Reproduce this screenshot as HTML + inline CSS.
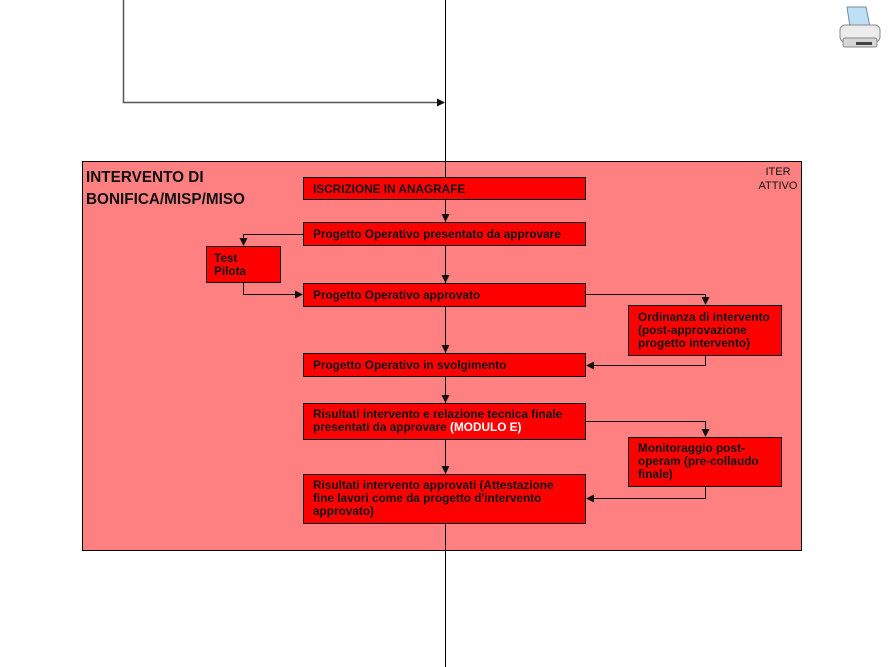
<!DOCTYPE html>
<html><head><meta charset="utf-8"><style>
html,body{margin:0;padding:0;background:#fff;}
svg{display:block;}
text{font-family:"Liberation Sans",sans-serif;font-weight:bold;font-size:11.8px;fill:#111;}
</style></head><body>
<svg width="890" height="667" viewBox="0 0 890 667" xmlns="http://www.w3.org/2000/svg">
<defs><marker id="a" markerWidth="8" markerHeight="8" refX="7" refY="4" orient="auto" markerUnits="userSpaceOnUse"><path d="M0,0 L8,4 L0,8 z" fill="#111"/></marker></defs>
<rect x="82.5" y="161.5" width="719" height="389" fill="#ff8080" stroke="#000" stroke-width="1"/>
<line x1="445.5" y1="0" x2="445.5" y2="667" stroke="#000"/>
<polyline points="123.5,0 123.5,102.5 444,102.5" fill="none" stroke="#555" stroke-width="1.5" marker-end="url(#a)"/>
<!-- printer -->
<g transform="translate(838,5)">
<path d="M9,2 L28,2 L32,22 L12,22 z" fill="#bde0f6" stroke="#7a8a99"/>
<rect x="2" y="20" width="40" height="17" rx="5" fill="#ececec" stroke="#888"/>
<rect x="5" y="33" width="34" height="9" rx="2" fill="#d6d6d6" stroke="#888"/>
<rect x="18" y="37" width="16" height="3" fill="#444"/>
</g>
<text x="86" y="182" style="font-size:15.3px">INTERVENTO DI</text>
<text x="86" y="204" style="font-size:15.3px">BONIFICA/MISP/MISO</text>
<text x="778" y="175" text-anchor="middle" style="font-weight:normal;font-size:11px">ITER</text>
<text x="778" y="189" text-anchor="middle" style="font-weight:normal;font-size:11px">ATTIVO</text>
<!-- connectors -->
<g fill="none" stroke="#111" stroke-width="1">
<line x1="445.5" y1="199" x2="445.5" y2="221" marker-end="url(#a)"/>
<line x1="445.5" y1="245" x2="445.5" y2="282" marker-end="url(#a)"/>
<line x1="445.5" y1="306" x2="445.5" y2="352" marker-end="url(#a)"/>
<line x1="445.5" y1="376" x2="445.5" y2="402" marker-end="url(#a)"/>
<line x1="445.5" y1="439" x2="445.5" y2="473" marker-end="url(#a)"/>
<polyline points="303,234.5 243.5,234.5 243.5,245" marker-end="url(#a)"/>
<polyline points="243.5,282 243.5,294.5 302,294.5" marker-end="url(#a)"/>
<polyline points="586,294.5 705.5,294.5 705.5,304" marker-end="url(#a)"/>
<polyline points="705.5,356 705.5,365.5 587,365.5" marker-end="url(#a)"/>
<polyline points="586,421.5 705.5,421.5 705.5,436" marker-end="url(#a)"/>
<polyline points="705.5,486 705.5,498.5 587,498.5" marker-end="url(#a)"/>
</g>
<g fill="#ff0000" stroke="#000" stroke-width="1">
<rect x="303.5" y="177.5" width="282" height="22"/>
<rect x="303.5" y="222.5" width="282" height="23"/>
<rect x="206.5" y="246.5" width="74" height="36"/>
<rect x="303.5" y="283.5" width="282" height="23"/>
<rect x="628.5" y="305.5" width="153" height="50"/>
<rect x="303.5" y="353.5" width="282" height="23"/>
<rect x="303.5" y="403.5" width="282" height="36"/>
<rect x="628.5" y="437.5" width="153" height="49"/>
<rect x="303.5" y="474.5" width="282" height="49"/>
</g>
<text x="313" y="193">ISCRIZIONE IN ANAGRAFE</text>
<text x="313" y="238">Progetto Operativo presentato da approvare</text>
<text x="214" y="262">Test</text>
<text x="214" y="275">Pilota</text>
<text x="313" y="299">Progetto Operativo approvato</text>
<text x="638" y="321">Ordinanza di intervento</text>
<text x="638" y="334">(post-approvazione</text>
<text x="638" y="347">progetto intervento)</text>
<text x="313" y="369">Progetto Operativo in svolgimento</text>
<text x="313" y="418">Risultati intervento e relazione tecnica finale</text>
<text x="313" y="431">presentati da approvare <tspan style="fill:#fff">(MODULO E)</tspan></text>
<text x="638" y="452">Monitoraggio post-</text>
<text x="638" y="465">operam (pre-collaudo</text>
<text x="638" y="478">finale)</text>
<text x="313" y="489">Risultati intervento approvati (Attestazione</text>
<text x="313" y="502">fine lavori come da progetto d'intervento</text>
<text x="313" y="515">approvato)</text>
</svg>
</body></html>
